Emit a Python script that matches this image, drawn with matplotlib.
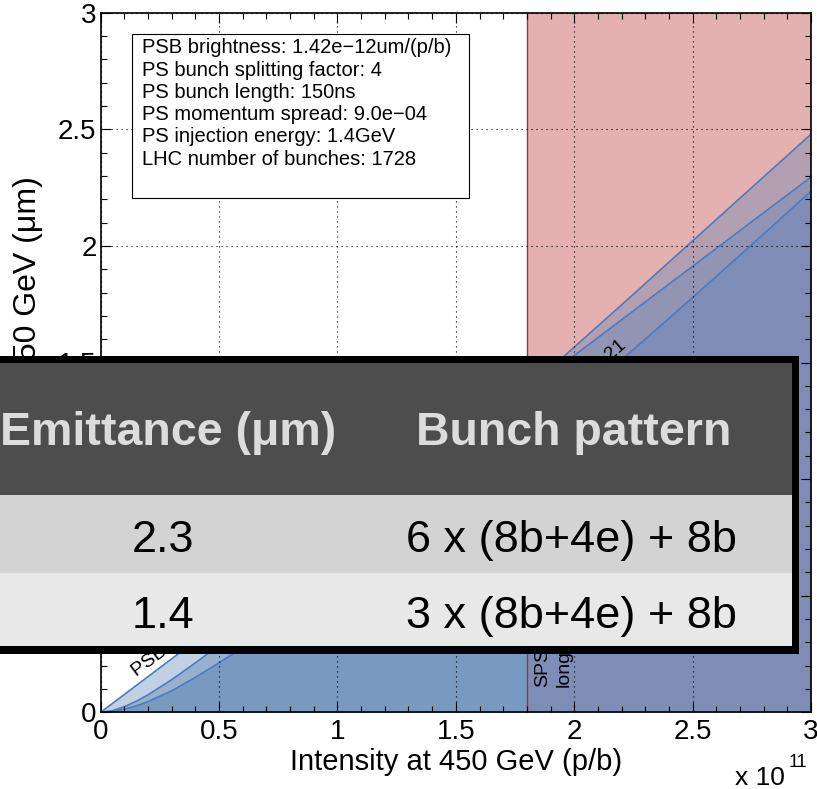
import matplotlib
matplotlib.use('Agg')
import matplotlib.pyplot as plt
from matplotlib.patches import Rectangle
from matplotlib.ticker import MultipleLocator

plt.rcParams['font.family'] = ['Liberation Sans', 'DejaVu Sans']

# intensity in units of 1e11 p/b, emittance in um
x_pts = [0, 0.05, 0.1, 0.15, 0.2, 0.3, 0.4, 0.5, 0.6, 0.8, 1.0, 1.2, 1.4, 1.6,
         1.8, 2.0, 2.2, 2.4, 2.6, 2.8, 3.0]
ps_sc_a = [0, 0.007, 0.024, 0.047, 0.075, 0.14, 0.212, 0.287, 0.363, 0.515, 0.68,
           0.85, 1.026, 1.205, 1.385, 1.566, 1.747, 1.93, 2.113, 2.296, 2.479]
ps_sc_b = [0, 0.004, 0.013, 0.027, 0.046, 0.092, 0.15, 0.212, 0.278, 0.41, 0.55,
           0.697, 0.85, 1.008, 1.171, 1.339, 1.511, 1.689, 1.869, 2.051, 2.235]
psb_x = [0, 3.0]
psb_y = [0, 2.295]
sps_long_limit = 1.8

x_ticks = [0, 0.5, 1, 1.5, 2, 2.5, 3]
y_ticks = [0, 0.5, 1, 1.5, 2, 2.5, 3]

info_lines = ['PSB brightness: 1.42e\u221212um/(p/b)',
              'PS bunch splitting factor: 4',
              'PS bunch length: 150ns',
              'PS momentum spread: 9.0e\u221204',
              'PS injection energy: 1.4GeV',
              'LHC number of bunches: 1728']

table_header = ['Emittance (\u03bcm)', 'Bunch pattern']
table_rows = [['2.3', '6 x (8b+4e) + 8b'],
              ['1.4', '3 x (8b+4e) + 8b']]

W, H = 817, 789
fig = plt.figure(figsize=(W / 100, H / 100), dpi=100)
ax = fig.add_axes([100.7 / W, 1 - 712.3 / H, 710.3 / W, 699.6 / H])

def px2ax(px, py):
    return (px - 100.7) / 710.3, (712.3 - py) / 699.6

# SPS longitudinal limit region
ax.axvspan(sps_long_limit, 3, color=(0.74, 0.23, 0.23), alpha=0.4, lw=0, zorder=0.5)
ax.axvline(sps_long_limit, color='#8c3c3c', lw=1.0, zorder=2)

left_clip = Rectangle((0, 0), sps_long_limit, 3, transform=ax.transData)
right_clip = Rectangle((sps_long_limit, 0), 3 - sps_long_limit, 3, transform=ax.transData)
line_c = '#4a7bbf'
for xs, ys in [(psb_x, psb_y), (x_pts, ps_sc_a), (x_pts, ps_sc_b)]:
    f1 = ax.fill_between(xs, 0, ys, color=(0.2, 0.4, 0.63), alpha=0.3, lw=0, zorder=1)
    f1.set_clip_path(left_clip)
    f2 = ax.fill_between(xs, 0, ys, color=(0.34, 0.5, 0.72), alpha=0.35, lw=0, zorder=1)
    f2.set_clip_path(right_clip)
    ax.plot(xs, ys, color=line_c, lw=1.2, zorder=2)

ax.text(0.15, 0.152, 'PSB brightness', rotation=37, rotation_mode='anchor',
        ha='left', va='baseline', fontsize=14, zorder=4)
ax.text(2.223, 1.566, '\u0394Q = -0.21', rotation=41, rotation_mode='anchor',
        ha='right', va='baseline', fontsize=14, zorder=4)
ax.text(1.83, 0.108, 'SPS\nlongitudinal', rotation=90, ha='left', va='bottom',
        fontsize=14, linespacing=1.35, zorder=4)

ax.set_xlim(0, 3)
ax.set_ylim(0, 3)
ax.set_xticks(x_ticks)
ax.set_xticklabels(['%g' % v for v in x_ticks])
ax.set_yticks(y_ticks)
ax.set_yticklabels(['%g' % v for v in y_ticks])
ax.xaxis.set_minor_locator(MultipleLocator(0.1))
ax.yaxis.set_minor_locator(MultipleLocator(0.1))
ax.tick_params(which='both', direction='in', top=True, right=True, width=0.8, labelsize=20)
ax.tick_params(which='major', length=7)
ax.tick_params(which='minor', length=4)
ax.tick_params(axis='x', pad=5)
ax.tick_params(axis='y', pad=3)
ax.grid(True, which='major', color='k', linestyle=(0, (1, 3.5)), linewidth=0.8)
ax.set_axisbelow(False)
for s in ax.spines.values():
    s.set_linewidth(1.2)

ax.set_xlabel('Intensity at 450 GeV (p/b)', fontsize=21)
ax.xaxis.set_label_coords(0.5, -0.051)
ax.set_ylabel('Emittance at 450 GeV (\u03bcm)', fontsize=23)
ax.yaxis.set_label_coords(-0.0812, 0.488)

# info box
bx0, by0 = px2ax(132, 198)
bx1, by1 = px2ax(469, 34)
ax.add_patch(Rectangle((bx0, by0), bx1 - bx0, by1 - by0, transform=ax.transAxes,
                       facecolor='white', edgecolor='black', lw=0.8, zorder=3))
for i, line in enumerate(info_lines):
    tx, ty = px2ax(141.7, 53.2 + 22.3 * i)
    ax.text(tx, ty, line, transform=ax.transAxes, fontsize=14.5, va='baseline', zorder=4)

fig.text(735 / W, 1 - 785 / H, 'x 10', fontsize=19, va='baseline')
fig.text(789 / W, 1 - 767 / H, '11', fontsize=13, va='baseline')

# table pasted over the chart
ov = fig.add_axes([0, 0, 1, 1], zorder=5)
ov.set_xlim(0, W)
ov.set_ylim(H, 0)
ov.axis('off')
ov.add_patch(Rectangle((-20, 356), 819, 298, facecolor='black', lw=0))
ov.add_patch(Rectangle((-20, 363), 812, 132, facecolor='#4d4d4d', lw=0))
ov.add_patch(Rectangle((-20, 495), 812, 78, facecolor='#d3d3d3', lw=0))
ov.add_patch(Rectangle((-20, 573), 812, 73, facecolor='#e8e8e8', lw=0))
col_cx = [168, 574]
for c, head in enumerate(table_header):
    ov.text(col_cx[c], 445, head, ha='center', va='baseline', fontsize=33.5,
            fontweight='bold', color='#dcdcdc')
col_cx_rows = [163, 571]
row_base = [552, 628]
for r, row in enumerate(table_rows):
    for c, val in enumerate(row):
        ov.text(col_cx_rows[c], row_base[r], val, ha='center', va='baseline',
                fontsize=32.5, color='black')

fig.savefig('out.png', dpi=100)
